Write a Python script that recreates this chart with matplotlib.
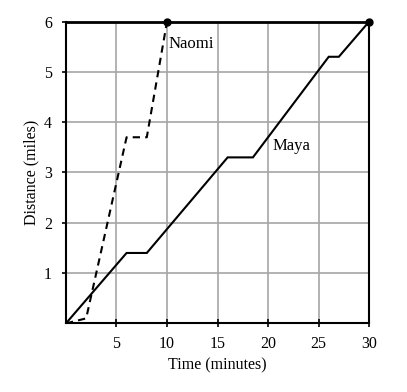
import matplotlib
matplotlib.use("Agg")
import matplotlib.pyplot as plt

naomi_t = [0, 2, 6, 8, 10]
naomi_d = [0, 0.1, 3.7, 3.7, 6]
maya_t = [0, 6, 8, 16, 18.5, 26, 27, 30]
maya_d = [0, 1.4, 1.4, 3.3, 3.3, 5.3, 5.3, 6]
x_ticks = [5, 10, 15, 20, 25, 30]
y_ticks = [1, 2, 3, 4, 5, 6]

plt.rcParams['font.family'] = ['Liberation Serif', 'DejaVu Serif']

fig = plt.figure(figsize=(4.07, 3.92), dpi=100)
ax = fig.add_axes([0.162, 0.175, 0.745, 0.770])

ax.set_xlim(0, 30)
ax.set_ylim(0, 6)
ax.set_xticks(x_ticks)
ax.set_yticks(y_ticks)
ax.grid(True, color='#a6a6a6', linewidth=1.2)
ax.set_axisbelow(True)

ax.plot(maya_t, maya_d, color='black', linewidth=1.5, solid_joinstyle='miter')
ax.plot(naomi_t, naomi_d, color='black', linewidth=1.5, linestyle=(0, (3.5, 2.5)))
ax.plot([naomi_t[-1], maya_t[-1]], [naomi_d[-1], maya_d[-1]], 'o', color='black',
        markersize=5, clip_on=False, zorder=5)

ax.text(10.1, 5.55, 'Naomi', fontsize=12, ha='left', va='center')
ax.text(20.4, 3.52, 'Maya', fontsize=12, ha='left', va='center')

for s in ax.spines.values():
    s.set_color('black')
    s.set_linewidth(1.5)
ax.spines['top'].set_linewidth(2)

ax.tick_params(axis='x', direction='inout', length=6, width=1.2, labelsize=11.5, pad=6)
ax.tick_params(axis='y', direction='out', length=3, width=1.2, labelsize=11.5, pad=7)

ax.set_xlabel('Time (minutes)', fontsize=11.5, labelpad=4)
ax.set_ylabel('Distance (miles)', fontsize=11.5, labelpad=3)

fig.savefig('out.png', dpi=100)
